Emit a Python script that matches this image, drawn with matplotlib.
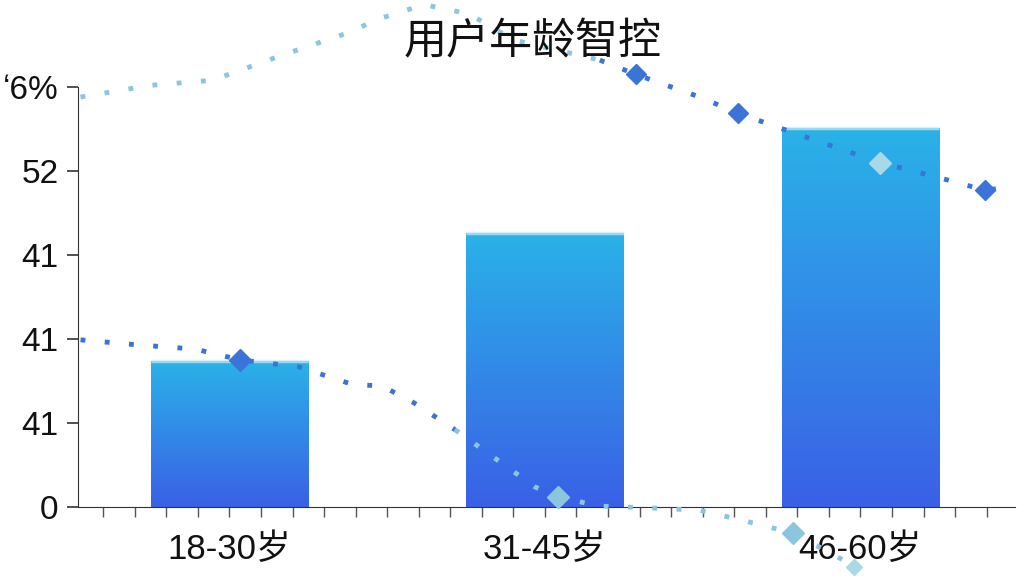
import numpy as np
import matplotlib
matplotlib.use("Agg")
import matplotlib.pyplot as plt
from matplotlib.colors import LinearSegmentedColormap
from matplotlib.ticker import MultipleLocator

plt.rcParams['font.family'] = ['Liberation Sans', 'Noto Sans CJK SC', 'DejaVu Sans']

# ---- data ----
categories = ['18-30岁', '31-45岁', '46-60岁']
bar_values = [17.4, 32.6, 45.1]
ytick_values = [0, 10, 20, 30, 40, 50]
ytick_labels = ['0', '41', '41', '41', '52', '\u02bb6%']
title = '用户年龄智控'

# upper dotted line (light part, then darker part)
upper_light_x = [-0.472, -0.250, -0.054, 0.168, 0.364, 0.481, 0.617, 0.759, 0.902, 1.174]
upper_light_y = [48.8, 50.2, 50.8, 53.8, 56.3, 58.2, 59.8, 58.7, 55.6, 53.2]
upper_dark_x = [1.174, 1.288, 1.491, 1.611, 1.807, 2.063, 2.250, 2.396, 2.487]
upper_dark_y = [53.2, 51.5, 48.8, 46.9, 44.3, 41.0, 39.2, 37.7, 38.2]
upper_dia_x = [1.288, 1.611, 2.396]
upper_dia_y = [51.5, 46.9, 37.7]
upper_dia_light_x = [2.063]
upper_dia_light_y = [41.0]

# lower dotted line (dark part, then light part)
lower_dark_x = [-0.472, -0.291, -0.108, 0.035, 0.218, 0.389, 0.484, 0.585, 0.715]
lower_dark_y = [19.9, 19.3, 18.8, 17.5, 16.7, 14.6, 14.4, 12.4, 9.2]
lower_light_x = [0.715, 0.864, 0.968, 1.041, 1.174, 1.332, 1.491, 1.617, 1.785, 1.902, 1.981]
lower_light_y = [9.2, 5.2, 2.4, 1.2, 0.1, -0.1, -0.4, -1.5, -3.1, -5.4, -7.1]
lower_dia_x = [0.035]
lower_dia_y = [17.5]
lower_dia_light_x = [1.041, 1.785]
lower_dia_light_y = [1.2, -3.1]
lower_end_x = [1.981]
lower_end_y = [-7.1]

dark = '#3a74d6'
light = '#8cc6de'
lighter = '#a9d9e6'

fig = plt.figure(figsize=(10.24, 5.76), dpi=100)
ax = fig.add_axes([78/1024, (576-507)/576, (1015-78)/1024, 507/576])

x = np.arange(len(categories))
w = 0.5
cmap = LinearSegmentedColormap.from_list('g', ['#3a60e6', '#2ab2e8'])
grad = np.linspace(0, 1, 256).reshape(-1, 1)
bars = ax.bar(x, bar_values, width=w, color='none', edgecolor='none', zorder=2)
for b in bars:
    x0, h = b.get_x(), b.get_height()
    im = ax.imshow(grad, extent=[x0, x0 + w, 0, h], origin='lower', cmap=cmap,
                   aspect='auto', zorder=2)
    im.set_clip_path(b)
    ax.plot([x0, x0 + w], [h, h], color='#c9ecf8', linewidth=2.5, alpha=0.7,
            solid_capstyle='butt', zorder=3)

ls = dict(linestyle=(0, (1, 4)), linewidth=3.5, solid_capstyle='butt', clip_on=False, zorder=4)
ax.plot(upper_light_x, upper_light_y, color=light, **ls)
ax.plot(upper_dark_x, upper_dark_y, color=dark, **ls)
ax.plot(lower_dark_x, lower_dark_y, color=dark, **ls)
ax.plot(lower_light_x, lower_light_y, color=light, **ls)

mk = dict(linestyle='none', marker='D', clip_on=False, zorder=5)
ax.plot(upper_dia_x, upper_dia_y, color=dark, markersize=10, **mk)
ax.plot(upper_dia_light_x, upper_dia_light_y, color=lighter, markersize=11, **mk)
ax.plot(lower_dia_x, lower_dia_y, color=dark, markersize=11, **mk)
ax.plot(lower_dia_light_x, lower_dia_light_y, color=light, markersize=11, **mk)
ax.plot(lower_end_x, lower_end_y, color=lighter, markersize=8, **mk)

ax.set_xlim(-0.48, 2.49)
ax.set_ylim(0, 507/8.4)

for s in ['top', 'right']:
    ax.spines[s].set_visible(False)
ax.spines['left'].set_bounds(0, 50)
ax.spines['left'].set_color('#333333')
ax.spines['bottom'].set_color('#333333')

ax.set_yticks(ytick_values)
ax.set_yticklabels(ytick_labels, fontsize=24)
ax.set_xticks(x)
ax.set_xticklabels(categories, fontsize=25)
ax.xaxis.set_minor_locator(MultipleLocator(0.1))
ax.tick_params(axis='y', length=8, width=1.2, pad=6, colors='#333333', labelcolor='#111111')
ax.tick_params(axis='x', which='both', length=7, width=1.0, pad=12, colors='#555555', labelcolor='#111111')

fig.text(0.52, 1 - 42/576, title, fontsize=31, ha='center', va='center',
         family=['Noto Sans CJK SC'], color='#111111')

fig.savefig('out.png', dpi=100)
